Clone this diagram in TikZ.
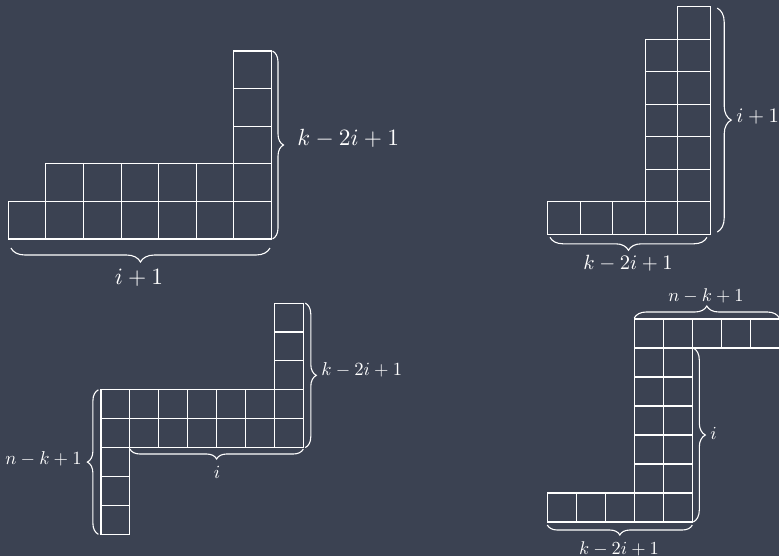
\documentclass[tikz,border=0pt]{standalone}
\usepackage{xcolor}
\usetikzlibrary{decorations.pathreplacing}
\definecolor{slatebg}{HTML}{3B4252}

\begin{document}
\begin{tikzpicture}[x=.5pt,y=-.5pt,
 cell/.style={draw=white,line width=.55pt},
 curly/.style={draw=white,line width=.55pt,decorate,
   decoration={brace,amplitude=#1}},
 curly/.default=6pt,
 lbl/.style={text=white,inner sep=0pt,scale=#1,transform shape}
]
\useasboundingbox (0,0) rectangle (779,556);
\fill[slatebg] (0,0) rectangle (779,556);

% upper left shape
\begin{scope}[shift={(8.3,239)},x=18.8pt,y=18.8pt]
 \foreach \c in {0,...,6} \draw[cell] (\c,0) rectangle ++(1,1);
 \foreach \c in {1,...,6} \draw[cell] (\c,1) rectangle ++(1,1);
 \foreach \r in {2,3,4} \draw[cell] (6,\r) rectangle ++(1,1);
 \draw[curly=5.5pt,decoration={raise=.5pt}] (7,5) -- (7,0);
 \draw[curly=7pt,decoration={raise=4.5pt}] (6.96,0) -- (.07,0);
\end{scope}
\node[lbl=1.17,anchor=base west] (heightA) at (297,145) {$k-2i+1$};
\node[lbl=1.17,anchor=base] (widthA) at (139,284) {$i+1$};

% upper right shape
\begin{scope}[shift={(547.7,234.3)},x=16.25pt,y=16.25pt]
 \foreach \c in {0,...,4} \draw[cell] (\c,0) rectangle ++(1,1);
 \foreach \r in {1,...,5} \foreach \c in {3,4} \draw[cell] (\c,\r) rectangle ++(1,1);
 \draw[cell] (4,6) rectangle ++(1,1);
 \draw[curly=7pt,decoration={raise=3.5pt}] (5,6.96) -- (5,.07);
 \draw[curly=6.5pt,decoration={raise=1.5pt}] (4.9,0) -- (.07,0);
\end{scope}
\node[lbl=1.03,anchor=base west] (heightB) at (736,122) {$i+1$};
\node[lbl=1.03,anchor=base] (widthB) at (628,269) {$k-2i+1$};

% lower left shape
\begin{scope}[shift={(101,534.3)},x=14.45pt,y=14.45pt]
 \foreach \r in {0,1,2} \draw[cell] (0,\r) rectangle ++(1,1);
 \foreach \r in {3,4} \foreach \c in {0,...,6} \draw[cell] (\c,\r) rectangle ++(1,1);
 \foreach \r in {5,6,7} \draw[cell] (6,\r) rectangle ++(1,1);
 \draw[curly=5.5pt,decoration={raise=1pt}] (7,8) -- (7,3);
 \draw[curly=5.5pt,decoration={raise=1.3pt}] (0,0) -- (0,5);
 \draw[curly=5pt,decoration={raise=.7pt}] (7,3) -- (1,3);
\end{scope}
\node[lbl=.93,anchor=base west] (heightC) at (321,375) {$k-2i+1$};
\node[lbl=.93,anchor=base east] (leftC) at (82,464) {$n-k+1$};
\node[lbl=.93,anchor=base] (widthC) at (217,478) {$i$};

% lower right shape
\begin{scope}[shift={(547.3,522)},x=14.5pt,y=14.5pt]
 \foreach \c in {0,...,4} \draw[cell] (\c,0) rectangle ++(1,1);
 \foreach \r in {1,...,5} \foreach \c in {3,4} \draw[cell] (\c,\r) rectangle ++(1,1);
 \foreach \c in {3,...,7} \draw[cell] (\c,6) rectangle ++(1,1);
 \draw[curly=6pt,decoration={raise=.5pt}] (3,7) -- (8,7);
 \draw[curly=6pt,decoration={raise=.5pt}] (5,6) -- (5,0);
 \draw[curly=5pt,decoration={raise=1.5pt}] (5,0) -- (0,0);
\end{scope}
\node[lbl=.92,anchor=base] (topD) at (706,301) {$n-k+1$};
\node[lbl=.92,anchor=base west] (heightD) at (710,439) {$i$};
\node[lbl=.92,anchor=base] (widthD) at (619,554) {$k-2i+1$};
\end{tikzpicture}
\end{document}
